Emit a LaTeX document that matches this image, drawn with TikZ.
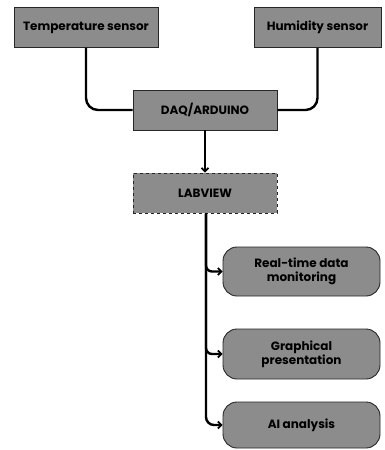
\documentclass[tikz,border=0pt]{standalone}
\usepackage{fontspec}
\setmainfont{Poppins}
\usetikzlibrary{arrows.meta}
\definecolor{boxgray}{RGB}{140,140,140}
\begin{document}
\begin{tikzpicture}[x=1pt,y=-1pt,
  box/.style={draw=black!85,line width=0.9pt,fill=boxgray,font=\bfseries\fontsize{12}{14}\selectfont,align=center,inner sep=0pt},
  rbox/.style={box,rounded corners=14pt},
  conn/.style={line width=2.4pt,rounded corners=12pt},
  arr/.style={line width=2.4pt,-{Straight Barb[length=3.5pt,width=7pt,line width=1.8pt]}}
]
\useasboundingbox (0,0) rectangle (385,450);
\node[box,minimum width=144pt,minimum height=40pt] (temp) at (86,27.5) {Temperature sensor};
\node[box,minimum width=127pt,minimum height=40pt] (hum) at (317.5,27.5) {Humidity sensor};
\node[box,minimum width=144pt,minimum height=40pt] (daq) at (205,110) {DAQ/ARDUINO};
\node[box,dashed,minimum width=144pt,minimum height=40pt] (lab) at (205,193) {LABVIEW};
\node[rbox,minimum width=157pt,minimum height=49pt] (rt) at (301.5,271.5) {Real-time data\\monitoring};
\node[rbox,minimum width=157pt,minimum height=50pt] (gp) at (301.5,354) {Graphical\\presentation};
\node[rbox,minimum width=157pt,minimum height=46pt] (ai) at (301.5,425) {AI analysis};
\draw[conn] (temp.south) |- (daq.west);
\draw[conn] (hum.south) |- (daq.east);
\draw[arr] (daq.south) -- (lab.north);
\draw[arr,rounded corners=6pt] ([xshift=1pt]lab.south) |- (rt.west);
\draw[arr,rounded corners=6pt] ([xshift=1pt]lab.south) |- (gp.west);
\draw[arr,rounded corners=8pt] ([xshift=1pt]lab.south) |- (ai.west);
\end{tikzpicture}
\end{document}
